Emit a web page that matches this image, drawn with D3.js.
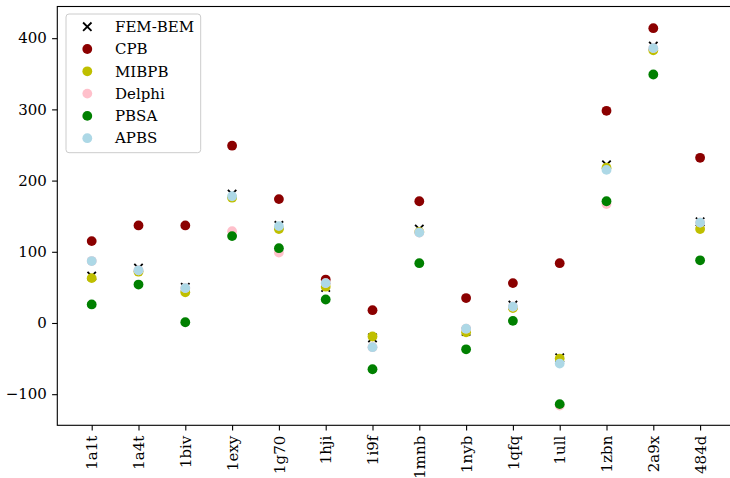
<!DOCTYPE html>
<html>
<head>
<meta charset="utf-8">
<script src="https://cdn.jsdelivr.net/npm/d3@7"></script>
<style>
  html, body { margin: 0; padding: 0; background: #fff; }
  svg { display: block; }
  text { font-family: "DejaVu Serif", serif; }
</style>
</head>
<body>
<svg id="chart" width="730" height="478"></svg>
<script>
// Solvation energies per structure for each Poisson–Boltzmann solver
const categories = ["1a1t","1a4t","1biv","1exy","1g70","1hji","1i9f","1mnb","1nyb","1qfq","1ull","1zbn","2a9x","484d"];
const femBem = [66, 77, 50, 181, 137, 50, -21, 132, -12, 25, -49, 222, 389, 142];
const cpb    = [115, 137, 137, 249, 174, 61, 18, 171, 35, 56, 84, 298, 414, 232];
const mibpb  = [63, 72, 43, 176, 132, 51, -19, 128, -13, 21, -50, 218, 383, 132];
const delphi = [87, 74, 49, 129, 99, 56, -34, 127, -8, 23, -116, 167, 386, 141];
const pbsa   = [26, 54, 1, 122, 105, 33, -65, 84, -37, 3, -114, 171, 349, 88];
const apbs   = [87, 74, 49, 178, 136, 56, -34, 127, -8, 23, -57, 215, 386, 141];
const yTicks = [-100, 0, 100, 200, 300, 400];

const series = [
  { name: "FEM-BEM", values: femBem, color: "#000000", marker: "x" },
  { name: "CPB",     values: cpb,    color: "#8b0000", marker: "o" },
  { name: "MIBPB",   values: mibpb,  color: "#bfbf00", marker: "o" },
  { name: "Delphi",  values: delphi, color: "#ffc0cb", marker: "o" },
  { name: "PBSA",    values: pbsa,   color: "#008000", marker: "o" },
  { name: "APBS",    values: apbs,   color: "#add8e6", marker: "o" }
];

const svg = d3.select("#chart");
const plotLeft = 57.3, plotRight = 734.5, plotTop = 6.5, plotBottom = 425.3;
const fontSize = 15;
const tickLen = 5.2, tickPad = 5.2;
const R = 4.9, XH = 4.2;

const x = d3.scalePoint().domain(categories).range([plotLeft, plotRight]).padding(0.735);
const y = d3.scaleLinear().domain([-143.7, 444.5]).range([plotBottom, plotTop]);

// points
const plot = svg.append("g");
function drawMarker(g, type, cx, cy, color) {
  if (type === "x") {
    g.append("path")
      .attr("d", `M${cx - XH},${cy - XH}L${cx + XH},${cy + XH}M${cx - XH},${cy + XH}L${cx + XH},${cy - XH}`)
      .attr("stroke", color).attr("stroke-width", 1.8).attr("fill", "none");
  } else {
    g.append("circle").attr("cx", cx).attr("cy", cy).attr("r", R).attr("fill", color);
  }
}
series.forEach(s => {
  const g = plot.append("g").attr("class", "series");
  s.values.forEach((v, i) => drawMarker(g, s.marker, x(categories[i]), y(v), s.color));
});

// frame
svg.append("rect")
  .attr("x", plotLeft).attr("y", plotTop)
  .attr("width", plotRight - plotLeft).attr("height", plotBottom - plotTop)
  .attr("fill", "none").attr("stroke", "#000").attr("stroke-width", 1.1);

// axes
const yAxis = svg.append("g")
  .attr("transform", `translate(${plotLeft},0)`)
  .call(d3.axisLeft(y).tickValues(yTicks).tickSize(tickLen).tickPadding(tickPad));
yAxis.select(".domain").remove();
yAxis.selectAll("line").attr("stroke", "#000").attr("stroke-width", 1.1);
yAxis.selectAll("text").attr("font-size", fontSize).attr("fill", "#000")
  .style("font-family", "'DejaVu Serif', serif");

const xAxis = svg.append("g")
  .attr("transform", `translate(0,${plotBottom})`)
  .call(d3.axisBottom(x).tickSize(tickLen).tickPadding(tickPad));
xAxis.select(".domain").remove();
xAxis.selectAll("line").attr("stroke", "#000").attr("stroke-width", 1.1);
xAxis.selectAll("text")
  .attr("font-size", fontSize).attr("fill", "#000")
  .style("font-family", "'DejaVu Serif', serif")
  .attr("transform", "rotate(-90)")
  .attr("text-anchor", "end")
  .attr("x", -(tickLen + tickPad)).attr("y", 0).attr("dy", "0.35em");

// legend
const legend = svg.append("g");
legend.append("rect")
  .attr("x", 66).attr("y", 14).attr("width", 134.7).attr("height", 138.7)
  .attr("rx", 3).attr("ry", 3)
  .attr("fill", "#fff").attr("fill-opacity", 0.8)
  .attr("stroke", "#cccccc").attr("stroke-width", 1);
series.forEach((s, i) => {
  const cy = 26.7 + i * 22.3;
  drawMarker(legend, s.marker, 87.3, cy, s.color);
  legend.append("text")
    .attr("x", 115).attr("y", cy).attr("dy", "0.35em")
    .attr("font-size", fontSize).attr("fill", "#000")
    .text(s.name);
});
</script>
</body>
</html>
